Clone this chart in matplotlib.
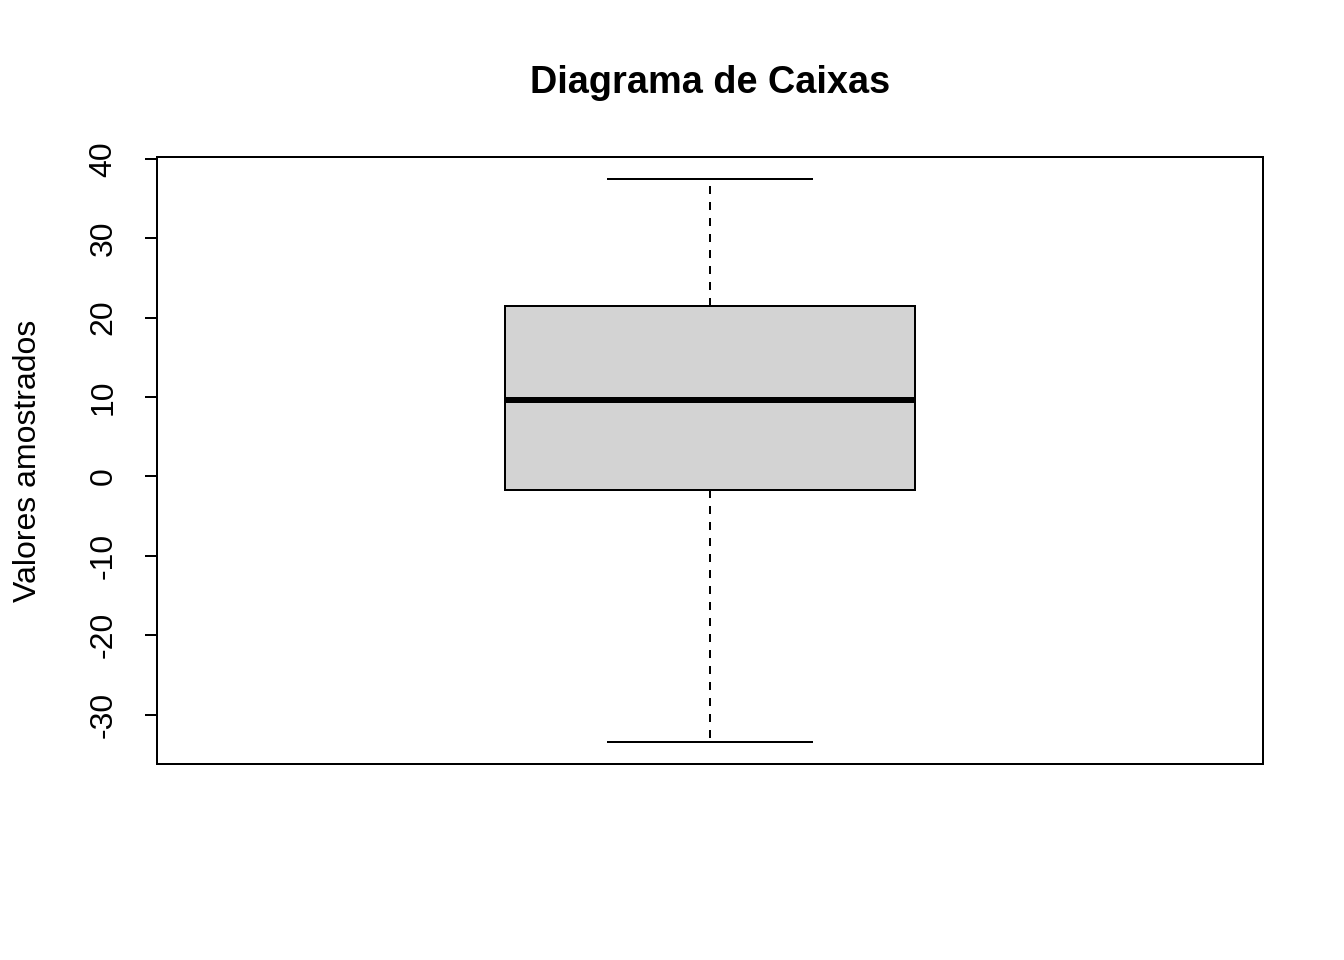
import matplotlib
matplotlib.use('Agg')
import matplotlib.pyplot as plt

plt.rcParams['font.family'] = ['Liberation Sans', 'DejaVu Sans']
plt.rcParams['axes.unicode_minus'] = False

# five-number summary
labels = ['Valores']
whislo = [-33.4]
q1 = [-1.7]
med = [9.6]
q3 = [21.5]
whishi = [37.4]

stats = []
for i in range(len(labels)):
    stats.append({'label': labels[i], 'whislo': whislo[i], 'q1': q1[i],
                  'med': med[i], 'q3': q3[i], 'whishi': whishi[i], 'fliers': []})

fig = plt.figure(figsize=(7, 5), dpi=192)
ax = fig.add_axes([157/1344, 1 - 764/960, (1263 - 157)/1344, (764 - 157)/960])

lw = 0.75
ax.bxp(stats, positions=[1], widths=0.4, patch_artist=True, showfliers=False,
       boxprops=dict(facecolor='#D3D3D3', edgecolor='black', linewidth=lw),
       medianprops=dict(color='black', linewidth=2.25, solid_capstyle='butt'),
       whiskerprops=dict(color='black', linewidth=lw, linestyle=(0, (4, 4))),
       capprops=dict(color='black', linewidth=lw), capwidths=0.2)

lo, hi = min(whislo), max(whishi)
pad = 0.04 * (hi - lo)
ax.set_ylim(lo - pad, hi + pad)
ax.set_xlim(0.46, 1.54)

ax.set_xticks([])
ax.set_yticks([-30, -20, -10, 0, 10, 20, 30, 40])
ax.tick_params(axis='y', length=4.5, width=lw, pad=10, labelsize=12,
               labelrotation=90)
for t in ax.get_yticklabels():
    t.set_va('center')
for s in ax.spines.values():
    s.set_linewidth(lw)

ax.set_ylabel('Valores amostrados', fontsize=12, labelpad=17)
ax.set_title('Diagrama de Caixas', fontsize=14.2, fontweight='bold', pad=24)

fig.savefig('out.png', dpi=192)
